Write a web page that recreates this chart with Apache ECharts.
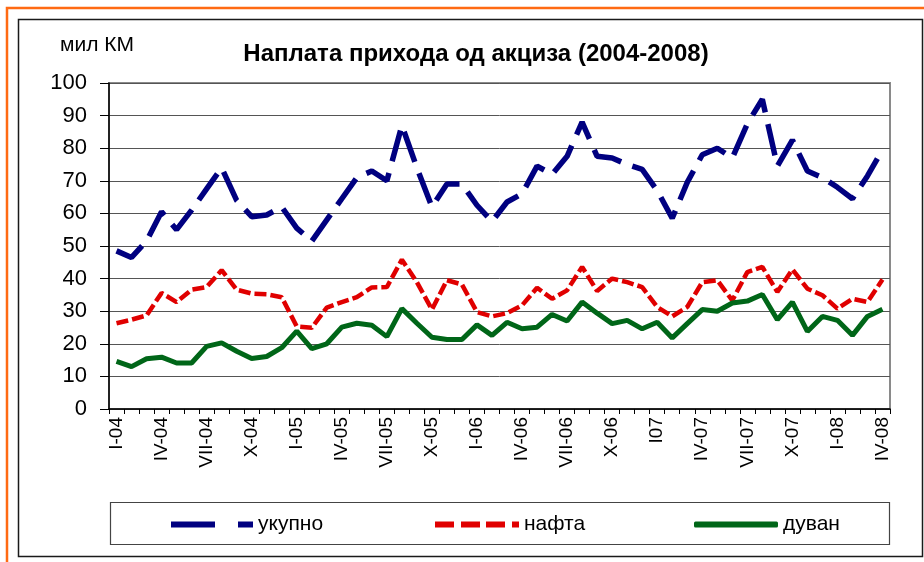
<!DOCTYPE html>
<html>
<head>
<meta charset="utf-8">
<script src="https://cdn.jsdelivr.net/npm/echarts@6/dist/echarts.min.js"></script>
<style>
html, body { margin: 0; padding: 0; background: #fff; }
#chart { width: 924px; height: 562px; }
</style>
</head>
<body>
<div id="chart"></div>
<script>
// месечне ознаке, I-04 ... IV-08
var months = [
	'I-04', 'II-04', 'III-04', 'IV-04', 'V-04', 'VI-04', 'VII-04', 'VIII-04', 'IX-04', 'X-04', 'XI-04', 'XII-04',
	'I-05', 'II-05', 'III-05', 'IV-05', 'V-05', 'VI-05', 'VII-05', 'VIII-05', 'IX-05', 'X-05', 'XI-05', 'XII-05',
	'I-06', 'II-06', 'III-06', 'IV-06', 'V-06', 'VI-06', 'VII-06', 'VIII-06', 'IX-06', 'X-06', 'XI-06', 'XII-06',
	'I07', 'II-07', 'III-07', 'IV-07', 'V-07', 'VI-07', 'VII-07', 'VIII-07', 'IX-07', 'X-07', 'XI-07', 'XII-07',
	'I-08', 'II-08', 'III-08', 'IV-08'
];

var ukupno = [
	48.5, 46.5, 51.5, 60.5, 55, 61, 67.5, 74, 64, 59, 59.5, 62,
	55.5, 51.5, 58, 64.5, 71, 73, 70, 87, 74, 62, 69, 69,
	62.5, 57.5, 63.5, 66, 74.5, 72, 77.5, 88, 77.5, 77, 75, 73.5,
	67, 58.5, 69.5, 78, 80, 77, 87.5, 95, 74.5, 82.5, 73, 71,
	68, 64.5, 71.5, 79.5
];

var nafta = [
	26.3, 27.4, 28.7, 35.6, 32.8, 36.6, 37.4, 42.6, 36.6, 35.4, 35.2, 34.3,
	25.3, 24.9, 31.1, 32.8, 34.3, 37.3, 37.4, 45.8, 38.9, 30.5, 39.5, 38.2,
	29.7, 28.4, 29.4, 31.8, 37.2, 33.8, 36.4, 43.6, 36.2, 40.0, 38.9, 37.4,
	31.3, 28.4, 31.3, 38.9, 39.5, 33.3, 42.0, 43.6, 35.9, 42.8, 36.9, 34.9,
	30.8, 33.8, 32.8, 39.7
];

var duvan = [
	14.6, 13.0, 15.4, 15.9, 14.1, 14.1, 19.2, 20.3, 17.7, 15.5, 16.1, 18.8,
	23.9, 18.5, 20.0, 25.1, 26.3, 25.7, 22.2, 30.8, 26.3, 22.0, 21.3, 21.3,
	25.8, 22.6, 26.6, 24.6, 25.1, 29.0, 27.0, 32.8, 29.4, 26.2, 27.2, 24.6,
	26.6, 21.8, 26.2, 30.5, 30.0, 32.5, 33.1, 35.1, 27.4, 32.8, 23.8, 28.4,
	27.2, 22.6, 28.4, 30.6
];

var chart = echarts.init(document.getElementById('chart'));

var font = 'Arial, "Liberation Sans", sans-serif';

var legendText = {
	fontFamily: font,
	fontSize: 21,
	color: '#000'
};

var option = {
	animation: false,
	backgroundColor: '#fff',
	title: [{
		text: 'Наплата прихода од акциза (2004-2008)',
		left: 471,
		top: 37,
		textAlign: 'center',
		textStyle: {
			fontFamily: font,
			fontSize: 24,
			fontWeight: 'bold',
			color: '#000'
		}
	}, {
		text: 'мил КМ',
		left: 55,
		top: 30,
		textStyle: {
			fontFamily: font,
			fontSize: 21,
			fontWeight: 'normal',
			color: '#000'
		}
	}],
	legend: [{
		data: [{ name: 'укупно', icon: 'path://M0,0H44V6H0Z M67,0H82V6H67Z' }],
		left: 166,
		top: 509,
		itemWidth: 82,
		itemHeight: 6,
		textStyle: legendText
	}, {
		data: [{ name: 'нафта', icon: 'path://M0,0H19V6H0Z M26,0H45V6H26Z M51,0H70V6H51Z M77,0H84V6H77Z' }],
		left: 430,
		top: 509,
		itemWidth: 84,
		itemHeight: 6,
		textStyle: legendText
	}, {
		data: [{ name: 'дуван', icon: 'roundRect' }],
		left: 689,
		top: 509,
		itemWidth: 84,
		itemHeight: 6,
		textStyle: legendText
	}],
	graphic: [{
		// наранџаста ивица
		type: 'polyline',
		shape: { points: [[7, 562], [7, 8], [924, 8]] },
		style: { fill: null, stroke: '#ff6a13', lineWidth: 2.5 },
		silent: true
	}, {
		type: 'rect',
		shape: { x: 18.5, y: 19.5, width: 904, height: 537 },
		style: { fill: null, stroke: '#1a1a1a', lineWidth: 1.5 },
		silent: true
	}, {
		// оквир легенде
		type: 'rect',
		shape: { x: 110.5, y: 502.5, width: 779, height: 42 },
		style: { fill: null, stroke: '#444', lineWidth: 1.2 },
		silent: true
	}],
	grid: {
		left: 109,
		right: 34,
		top: 83,
		bottom: 153,
		show: true,
		borderColor: '#8a8a8a',
		borderWidth: 2
	},
	xAxis: {
		type: 'category',
		data: months,
		boundaryGap: true,
		axisLine: { lineStyle: { color: '#000', width: 1.5 } },
		axisTick: {
			show: true,
			interval: 0,
			length: 5,
			lineStyle: { color: '#000' }
		},
		axisLabel: {
			interval: 2,
			rotate: 90,
			margin: 8,
			fontFamily: font,
			fontSize: 19,
			color: '#000'
		},
		splitLine: { show: false }
	},
	yAxis: {
		type: 'value',
		min: 0,
		max: 100,
		interval: 10,
		axisLine: { show: true, lineStyle: { color: '#000', width: 1.5 } },
		axisTick: {
			show: true,
			length: 9,
			lineStyle: { color: '#000' }
		},
		axisLabel: {
			margin: 22,
			fontFamily: font,
			fontSize: 22,
			color: '#000'
		},
		splitLine: { show: true, lineStyle: { color: '#555', width: 1 } }
	},
	series: [{
		name: 'укупно',
		type: 'line',
		data: ukupno,
		symbol: 'none',
		color: '#000080',
		lineStyle: { color: '#000080', width: 5.5, type: [32, 12], cap: 'butt' }
	}, {
		name: 'нафта',
		type: 'line',
		data: nafta,
		symbol: 'none',
		color: '#e00000',
		lineStyle: { color: '#e00000', width: 4.5, type: [12, 4], cap: 'butt' }
	}, {
		name: 'дуван',
		type: 'line',
		data: duvan,
		symbol: 'none',
		color: '#006618',
		lineStyle: { color: '#006618', width: 5 }
	}]
};

chart.setOption(option);
</script>
</body>
</html>
